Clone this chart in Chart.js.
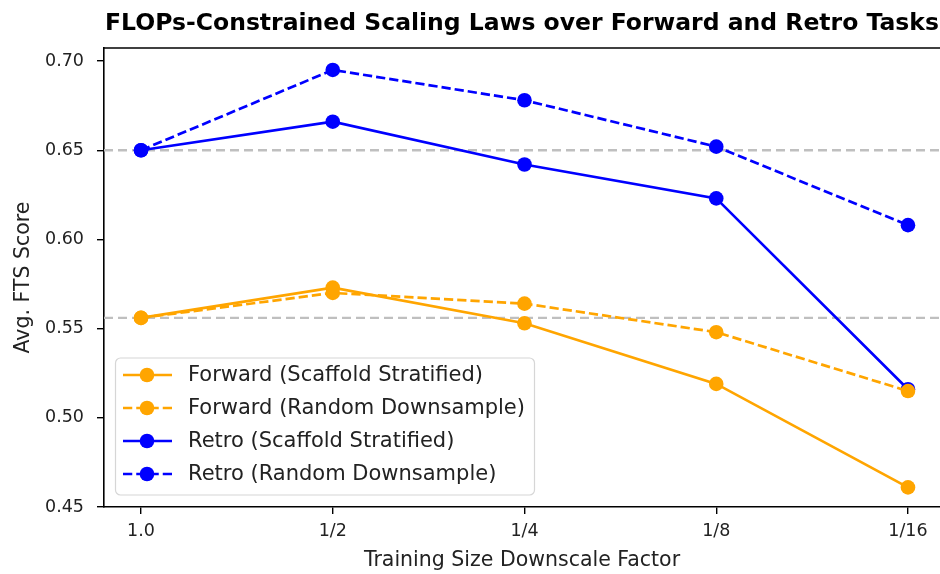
<!DOCTYPE html>
<html>
<head>
<meta charset="utf-8">
<script src="https://cdn.jsdelivr.net/npm/chart.js@4.4.1/dist/chart.umd.min.js"></script>
<style>
  html, body { margin: 0; padding: 0; background: #fff; }
  #wrap { width: 940px; height: 574px; }
</style>
</head>
<body>
<div id="wrap"><canvas id="myChart" width="940" height="574"></canvas></div>
<script>
// data
var xLabels = ['1.0', '1/2', '1/4', '1/8', '1/16'];
var yTicks = [0.45, 0.50, 0.55, 0.60, 0.65, 0.70];
var forwardScaffold = [0.556, 0.573, 0.553, 0.519, 0.461];
var forwardRandom = [0.556, 0.570, 0.564, 0.548, 0.515];
var retroScaffold = [0.650, 0.666, 0.642, 0.623, 0.516];
var retroRandom = [0.650, 0.695, 0.678, 0.652, 0.608];
var refLines = [0.650, 0.556];

var ORANGE = '#FFA500';
var BLUE = '#0000FF';
var FONT = '"DejaVu Sans", sans-serif';
var X_MIN = -0.193, X_MAX = 4.167;
var DASH = [9.25, 4];

function pts(arr) {
	return arr.map(function (v, i) { return { x: i, y: v }; });
}

function series(label, arr, color, dashed) {
	return {
		label: label,
		data: pts(arr),
		borderColor: color,
		backgroundColor: color,
		borderWidth: 2.7,
		borderDash: dashed ? DASH : [],
		pointRadius: 7.3,
		pointHoverRadius: 7.3,
		pointBorderWidth: 0,
		tension: 0
	};
}

var datasets = refLines.map(function (v) {
	return {
		label: '_ref',
		data: [{ x: X_MIN, y: v }, { x: X_MAX, y: v }],
		borderColor: '#bfbfbf',
		borderWidth: 2.4,
		borderDash: [9, 5],
		pointRadius: 0,
		order: 10
	};
});
datasets.push(series('Forward (Scaffold Stratified)', forwardScaffold, ORANGE, false));
datasets.push(series('Forward (Random Downsample)', forwardRandom, ORANGE, true));
datasets.push(series('Retro (Scaffold Stratified)', retroScaffold, BLUE, false));
datasets.push(series('Retro (Random Downsample)', retroRandom, BLUE, true));

// top spine + legend box inside the plot
var framePlugin = {
	id: 'frame',
	afterDraw: function (chart) {
		var ctx = chart.ctx, a = chart.chartArea;
		ctx.save();
		ctx.strokeStyle = '#000';
		ctx.lineWidth = 1.6;
		ctx.beginPath();
		ctx.moveTo(a.left, a.top);
		ctx.lineTo(a.right, a.top);
		ctx.stroke();

		// legend
		var bx = 115.5, by = 358, bw = 419, bh = 137, r = 5;
		ctx.fillStyle = 'rgba(255,255,255,0.85)';
		ctx.strokeStyle = '#d6d6d6';
		ctx.lineWidth = 1.2;
		ctx.beginPath();
		ctx.roundRect(bx, by, bw, bh, r);
		ctx.fill();
		ctx.stroke();

		var items = chart.data.datasets.filter(function (d) { return d.label !== '_ref'; });
		ctx.font = '21px ' + FONT;
		ctx.textBaseline = 'middle';
		items.forEach(function (d, i) {
			var y = 375 + i * 33;
			ctx.strokeStyle = d.borderColor;
			ctx.lineWidth = d.borderWidth;
			ctx.setLineDash(d.borderDash);
			ctx.beginPath();
			ctx.moveTo(123, y);
			ctx.lineTo(172, y);
			ctx.stroke();
			ctx.setLineDash([]);
			ctx.fillStyle = d.borderColor;
			ctx.beginPath();
			ctx.arc(147, y, 7.3, 0, Math.PI * 2);
			ctx.fill();
			ctx.fillStyle = '#222';
			ctx.fillText(d.label, 188, y + 1);
		});
		ctx.restore();
	}
};

var ctx = document.getElementById('myChart').getContext('2d');
var chart = new Chart(ctx, {
	type: 'line',
	data: { datasets: datasets },
	options: {
		responsive: false,
		animation: false,
		layout: { padding: 0, autoPadding: false },
		plugins: {
			legend: { display: false },
			tooltip: { enabled: false },
			title: {
				display: true,
				fullSize: false,
				text: 'FLOPs-Constrained Scaling Laws over Forward and Retro Tasks',
				color: '#000',
				font: { family: FONT, size: 23.5, weight: 'bold', lineHeight: 1 },
				padding: { top: 12, bottom: 12.5 }
			}
		},
		scales: {
			x: {
				type: 'linear',
				min: X_MIN,
				max: X_MAX,
				afterBuildTicks: function (s) {
					s.ticks = xLabels.map(function (l, i) { return { value: i }; });
				},
				afterFit: function (s) {
					s.height = 67;
					s.paddingLeft = 0;
					s.paddingRight = 0;
				},
				ticks: {
					color: '#222',
					font: { family: FONT, size: 17.5 },
					padding: 7,
					maxRotation: 0,
					callback: function (v) { return xLabels[v]; }
				},
				grid: { drawOnChartArea: false, drawTicks: true, tickLength: 7, color: '#000', lineWidth: 1.4 },
				border: { display: true, color: '#000', width: 1.6 },
				title: {
					display: true,
					text: 'Training Size Downscale Factor',
					color: '#222',
					font: { family: FONT, size: 20.5 },
					padding: { top: 0, bottom: 1 }
				}
			},
			y: {
				min: 0.45,
				max: 0.7073,
				afterBuildTicks: function (s) {
					s.ticks = yTicks.map(function (v) { return { value: v }; });
				},
				afterFit: function (s) {
					s.width = 104;
					s.paddingTop = 0;
					s.paddingBottom = 0;
				},
				ticks: {
					color: '#222',
					font: { family: FONT, size: 17.5 },
					padding: 13,
					callback: function (v) { return v.toFixed(2); }
				},
				grid: { drawOnChartArea: false, drawTicks: true, tickLength: 7, color: '#000', lineWidth: 1.4 },
				border: { display: true, color: '#000', width: 1.6 },
				title: {
					display: true,
					text: 'Avg. FTS Score',
					color: '#222',
					font: { family: FONT, size: 20.5 },
					padding: { top: 11, bottom: 0 }
				}
			}
		}
	},
	plugins: [framePlugin]
});
</script>
</body>
</html>
